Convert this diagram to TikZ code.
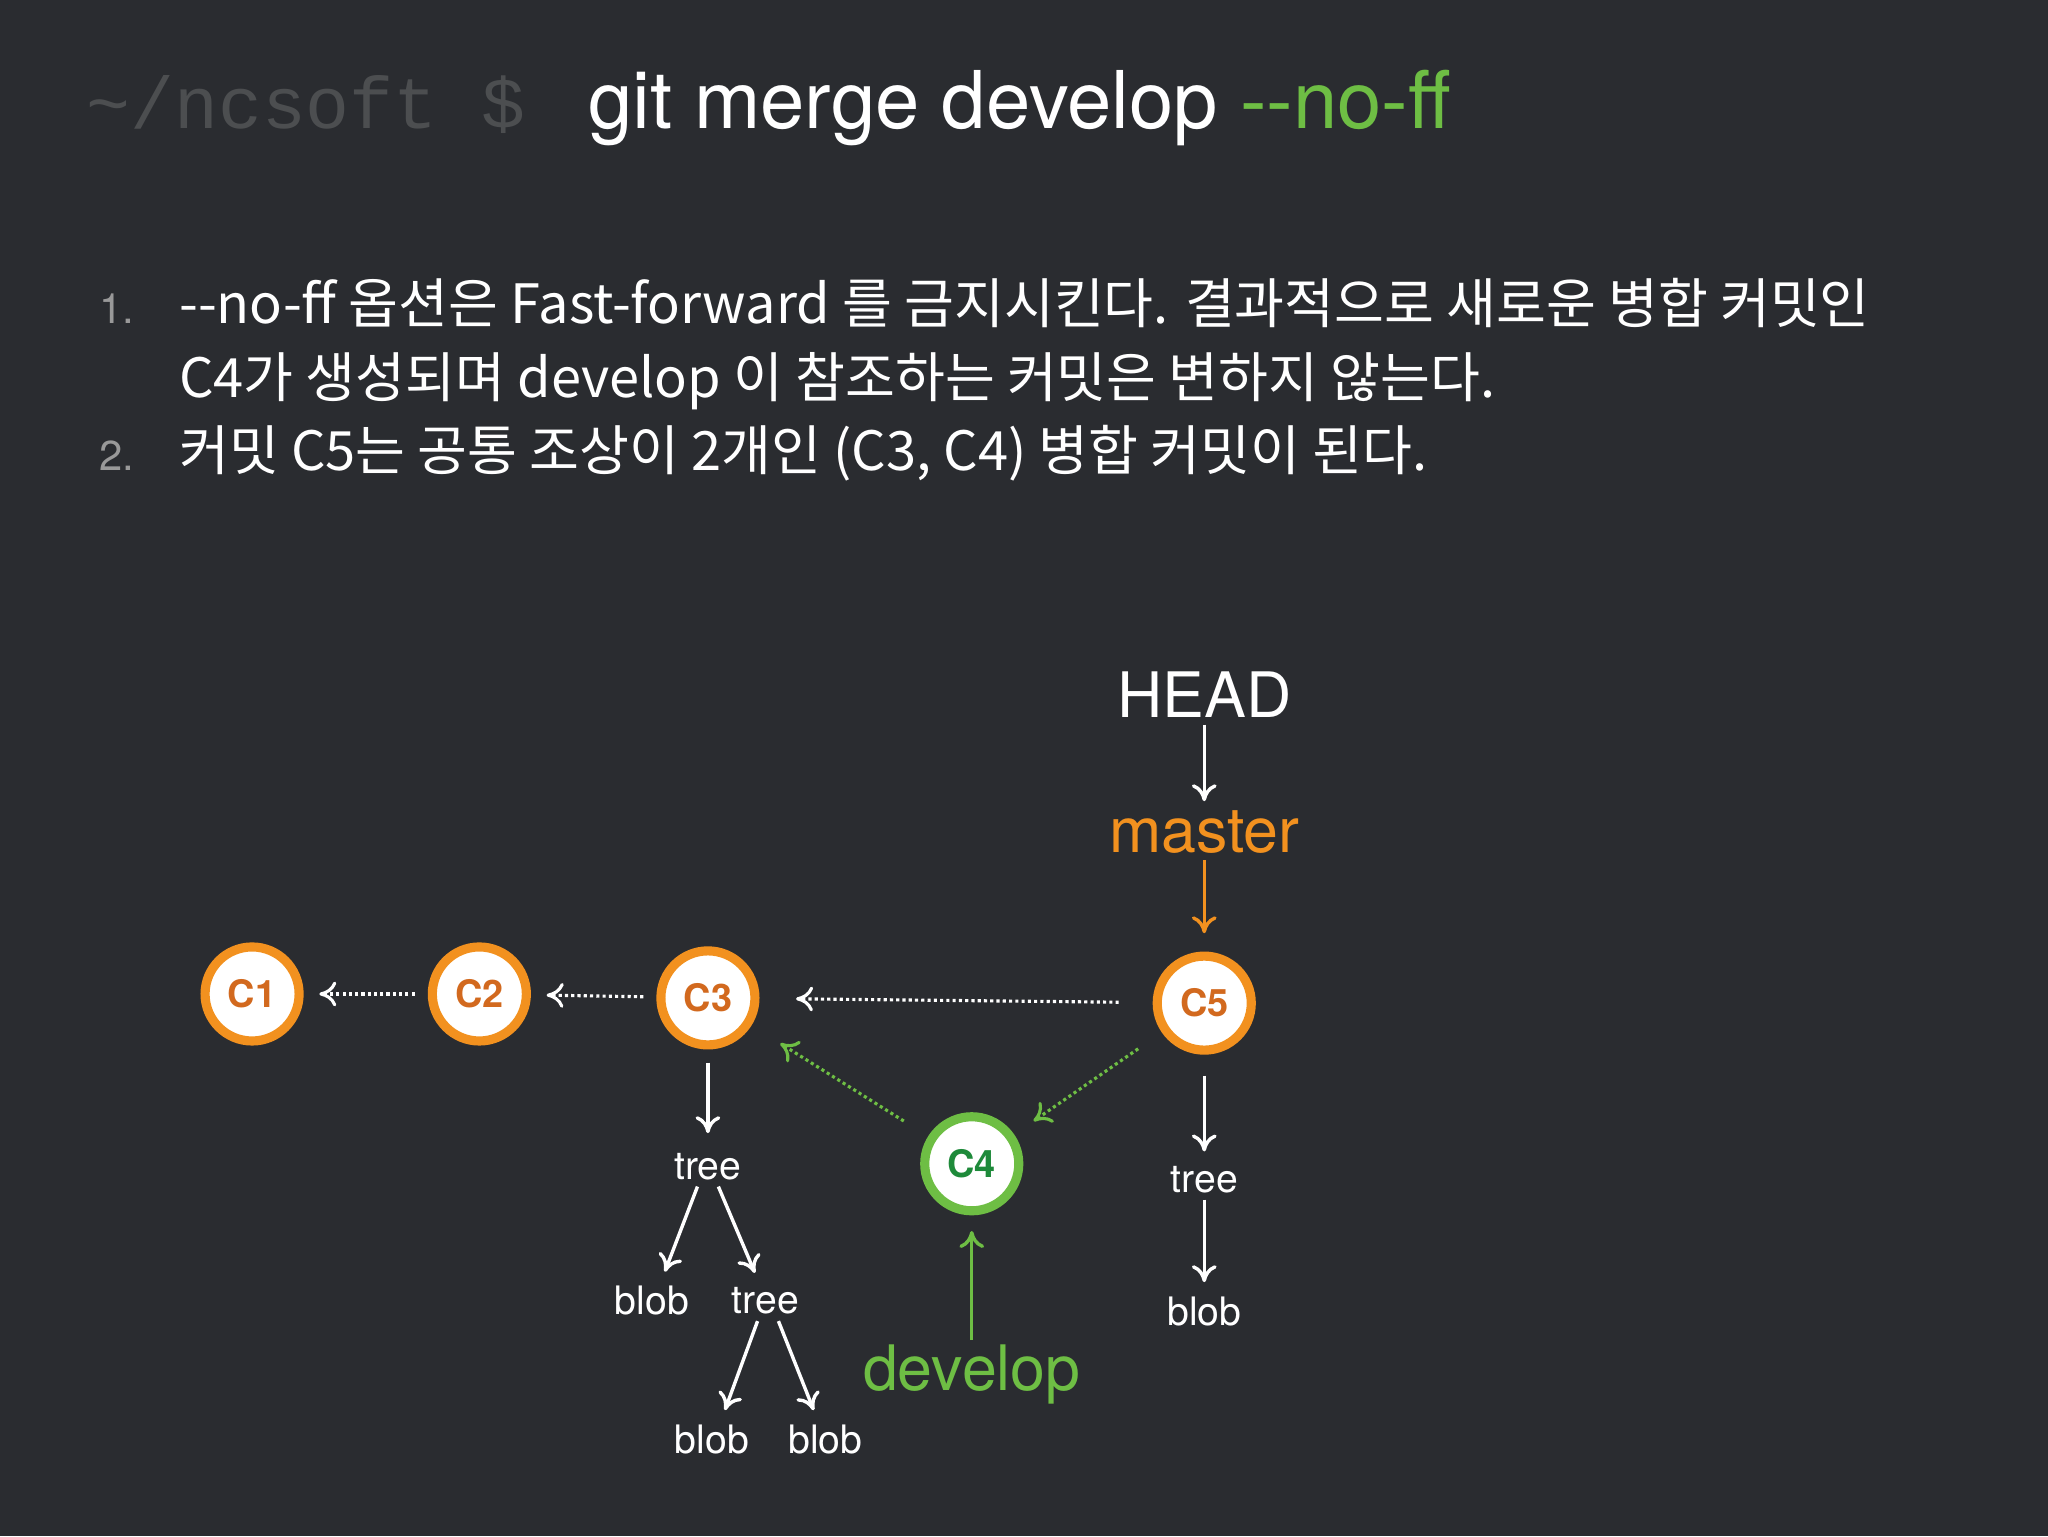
\documentclass[tikz,border=0pt]{standalone}
\usepackage{fontspec}
\setmainfont{TeX Gyre Heros}
\newfontfamily\kr{Noto Sans CJK KR}
\newfontfamily\mono{Liberation Mono}
\usetikzlibrary{arrows.meta}
\definecolor{bg}{HTML}{2A2C30}
\definecolor{org}{HTML}{F2911F}
\definecolor{grn}{HTML}{6EBE44}
\definecolor{dgrn}{HTML}{1E8A3A}
\definecolor{corg}{HTML}{D2691E}
\tikzset{
 commit/.style={circle,draw=#1,line width=7pt,fill=white,minimum size=72pt,inner sep=0pt,font=\fontsize{29}{30}\selectfont\bfseries},
 lbl/.style={text=white,font=\fontsize{30}{32}\selectfont,inner sep=1pt},
 arr/.style={white,line width=2.6pt,-{To[length=13pt,width=19pt]}},
 darr/.style={line width=2.4pt,dash pattern=on 2.4pt off 2.4pt,-{To[length=13pt,width=19pt]}},
 listtxt/.style={text=white,anchor=base west,inner sep=0pt,font=\kr\fontsize{41.5}{44}\selectfont},
}
\begin{document}
\begin{tikzpicture}[x=1pt,y=-1pt]
\fill[bg] (0,0) rectangle (1568,1176);
\useasboundingbox (0,0) rectangle (1568,1176);
% title
\node[anchor=base west,inner sep=0pt,text=gray!40!bg,font=\mono\fontsize{56}{60}\selectfont] (prompt) at (66,98) {\textasciitilde/ncsoft \$};
\node[anchor=base west,inner sep=0pt,text=white,font=\fontsize{61}{66}\selectfont] (cmd) at (450,98) {git merge develop \textcolor{grn}{{-}{-}no-ff}};
% list
\node[anchor=base west,inner sep=0pt,text=gray!80,font=\fontsize{32}{36}\selectfont] (n1) at (76,248) {1.};
\node[anchor=base west,inner sep=0pt,text=gray!80,font=\fontsize{32}{36}\selectfont] (n2) at (76,360) {2.};
\node[listtxt] (l1) at (137,248) {--no-ff 옵션은 Fast-forward 를 금지시킨다. 결과적으로 새로운 병합 커밋인};
\node[listtxt] (l2) at (137,304) {C4가 생성되며 develop 이 참조하는 커밋은 변하지 않는다.};
\node[listtxt] (l3) at (137,360) {커밋 C5는 공통 조상이 2개인 (C3, C4) 병합 커밋이 된다.};
% commits
\node[commit=org,text=corg] (c1) at (193,761) {C1};
\node[commit=org,text=corg] (c2) at (367,761) {C2};
\node[commit=org,text=corg] (c3) at (542,764) {C3};
\node[commit=org,text=corg] (c5) at (922,768) {C5};
\node[commit=grn,text=dgrn] (c4) at (744,891) {C4};
% refs
\node[text=white,font=\fontsize{48}{50}\selectfont,inner sep=1pt] (head) at (922,532) {HEAD};
\node[text=org,font=\fontsize{48}{50}\selectfont,inner sep=1pt] (master) at (922,637) {master};
\node[text=grn,font=\fontsize{48}{50}\selectfont,inner sep=1pt] (develop) at (744,1052) {develop};
\draw[arr,shorten <=4pt,shorten >=6pt] (head.south) -- (master.north);
\draw[arr,org,shorten <=4pt,shorten >=14pt] (master.south) -- (c5.north);
\draw[arr,grn,shorten <=2pt,shorten >=12pt] (develop.north) -- (c4.south);
% dotted
\draw[darr,white,shorten <=10pt,shorten >=12pt] (c2) -- (c1);
\draw[darr,white,shorten <=10pt,shorten >=12pt] (c3) -- (c2);
\draw[darr,white,shorten <=26pt,shorten >=28pt] (c5) -- (c3);
\draw[darr,grn,shorten <=22pt,shorten >=26pt] (c4) -- (c3);
\draw[darr,grn,shorten <=22pt,shorten >=18pt] (c5) -- (c4);
% trees
\node[lbl] (t1) at (542,893) {tree};
\node[lbl] (b1) at (499,996) {blob};
\node[lbl] (t2) at (586,996) {tree};
\node[lbl] (b2) at (545,1102) {blob};
\node[lbl] (b3) at (632,1102) {blob};
\node[lbl] (t3) at (922,903) {tree};
\node[lbl] (b4) at (922,1004) {blob};
\draw[arr,shorten <=10pt,shorten >=14pt] (c3.south) -- (t1.north);
\draw[arr] ([xshift=-8pt,yshift=-4pt]t1.south) -- ([xshift=10pt,yshift=10pt]b1.north);
\draw[arr] ([xshift=8pt,yshift=-4pt]t1.south) -- ([xshift=-8pt,yshift=10pt]t2.north);
\draw[arr] ([xshift=-6pt,yshift=-4pt]t2.south) -- ([xshift=10pt,yshift=10pt]b2.north);
\draw[arr] ([xshift=10pt,yshift=-4pt]t2.south) -- ([xshift=-9pt,yshift=10pt]b3.north);
\draw[arr,shorten <=16pt,shorten >=10pt] (c5.south) -- (t3.north);
\draw[arr,shorten <=4pt,shorten >=10pt] (t3.south) -- (b4.north);
\end{tikzpicture}
\end{document}
